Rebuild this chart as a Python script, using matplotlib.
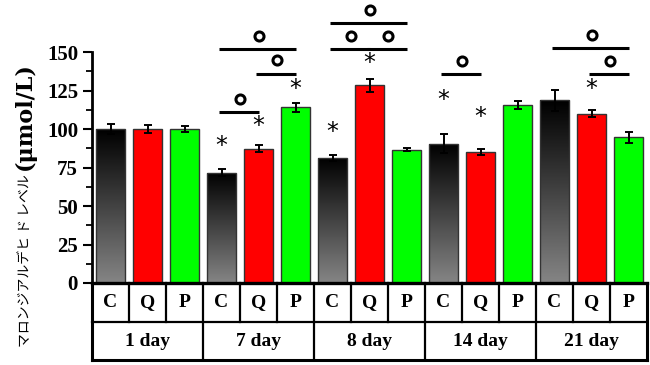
import matplotlib
matplotlib.use('Agg')
import matplotlib.pyplot as plt
from matplotlib.colors import LinearSegmentedColormap
from matplotlib.ticker import FixedLocator
import numpy as np

days = ['1 day', '7 day', '8 day', '14 day', '21 day']
treatments = ['C', 'Q', 'P']
y_ticks = [0, 25, 50, 75, 100, 125, 150]

# mean and error per day, one list per treatment
c_means = [100, 71.7, 81.4, 90.5, 118.6]
c_err = [3.5, 2.5, 2.0, 6.0, 7.0]
q_means = [100, 87.3, 128.3, 85.3, 110.0]
q_err = [2.5, 2.0, 4.0, 2.0, 2.5]
p_means = [100, 114.0, 86.6, 115.6, 94.5]
p_err = [2.0, 3.0, 1.0, 2.5, 3.5]

# significance marks: bar index and height of the asterisk
star_bars = [3, 4, 5, 6, 7, 9, 10, 13]
star_levels = [89, 102, 126, 98, 143, 119, 108, 126]

# brackets between bars (first bar, last bar, height of the line)
bracket_from = [3, 4, 3, 6, 7, 6, 9, 13, 12]
bracket_to = [4, 5, 5, 7, 8, 8, 10, 14, 14]
bracket_levels = [111, 136, 152, 152, 152, 169, 135.5, 135.5, 152.5]

serif = 'Liberation Serif'
colors = {'C': 'none', 'Q': '#ff0000', 'P': '#00ff00'}

means = np.ravel(np.column_stack([c_means, q_means, p_means]))
errs = np.ravel(np.column_stack([c_err, q_err, p_err]))
labels = treatments * len(days)
x = np.arange(len(means))

fig = plt.figure(figsize=(6.5, 3.65), dpi=100)
ax = fig.add_axes([92 / 650, 5 / 365, 555 / 650, 308 / 365])

bars = ax.bar(x, means, width=0.78, color=[colors[l] for l in labels],
              edgecolor='#333333', linewidth=1, zorder=2)
ax.errorbar(x, means, yerr=errs, fmt='none', ecolor='black',
            elinewidth=1.4, capsize=3, capthick=1.4, zorder=3)

# gradient fill for the control bars
cmap = LinearSegmentedColormap.from_list('ctrl', ['#858585', '#000000'])
grad = np.linspace(0, 1, 256).reshape(-1, 1)
for bar, lab in zip(bars, labels):
    if lab != 'C':
        continue
    x0, w, h = bar.get_x(), bar.get_width(), bar.get_height()
    im = ax.imshow(grad, extent=[x0, x0 + w, 0, h], origin='lower',
                   cmap=cmap, aspect='auto', zorder=1.9)
    im.set_clip_path(bar)

# asterisks
for b, lvl in zip(star_bars, star_levels):
    ax.text(b, lvl, '*', ha='center', va='center', fontsize=17,
            family='DejaVu Sans', clip_on=False)

# brackets with circle marks
for i, j, lvl in zip(bracket_from, bracket_to, bracket_levels):
    ax.plot([i - 0.06, j + 0.02], [lvl, lvl], color='black', lw=2.2,
            solid_capstyle='butt', clip_on=False)
    ax.plot((i + j) / 2, lvl + 8.5, 'o', ms=6.5, mfc='none', mec='black',
            mew=2.2, clip_on=False)

# table under the bars
row1, row2 = -25.4, -50
xmin, xmax = -0.5, len(means) - 0.5
lw_in, lw_out = 1.6, 2.2
ax.plot([xmin, xmax], [0, 0], color='black', lw=2.4, clip_on=False)
ax.plot([xmin, xmax], [row1, row1], color='black', lw=lw_in, clip_on=False)
ax.plot([xmin, xmax], [row2, row2], color='black', lw=lw_out, clip_on=False)
ax.plot([xmin, xmin], [0, row2], color='black', lw=lw_out, clip_on=False)
ax.plot([xmax, xmax], [0, row2], color='black', lw=lw_out, clip_on=False)
for k in range(1, len(means)):
    bottom = row2 if k % 3 == 0 else row1
    ax.plot([k - 0.5, k - 0.5], [0, bottom], color='black', lw=lw_in,
            clip_on=False)
for xi, lab in zip(x, labels):
    ax.text(xi, row1 / 2, lab, ha='center', va='center', fontsize=14,
            family=serif, weight='bold')
for g, day in enumerate(days):
    ax.text(3 * g + 1, (row1 + row2) / 2, day, ha='center', va='center',
            fontsize=14, family=serif, weight='bold')

ax.set_xlim(xmin, xmax)
ax.set_ylim(-50, 150)
ax.set_xticks([])
ax.set_yticks(y_ticks)
ax.set_yticklabels([str(v) for v in y_ticks], fontsize=15, family=serif,
                   weight='bold')
ax.yaxis.set_minor_locator(FixedLocator(np.arange(12.5, 150, 25)))
ax.tick_params(axis='y', which='major', direction='out', length=6.5,
               width=1.5, pad=3.5)
ax.tick_params(axis='y', which='minor', direction='out', length=4,
               width=1.3)
for s in ['top', 'right', 'bottom']:
    ax.spines[s].set_visible(False)
ax.spines['left'].set_linewidth(2)
ax.spines['left'].set_bounds(0, 150)

# y label in two parts: Japanese in a sans face, unit in bold serif
fig.text(0.038, 1 - 174 / 365, 'マロンジアルデヒ ド レベル', rotation=90,
         ha='center', va='top', fontsize=10, family='Noto Sans CJK JP')
fig.text(0.038, 1 - 170 / 365, '(μmol/L)', rotation=90, ha='center',
         va='bottom', fontsize=16, family='DejaVu Serif', weight='bold')

fig.savefig('out.png', dpi=100)
plt.close(fig)
